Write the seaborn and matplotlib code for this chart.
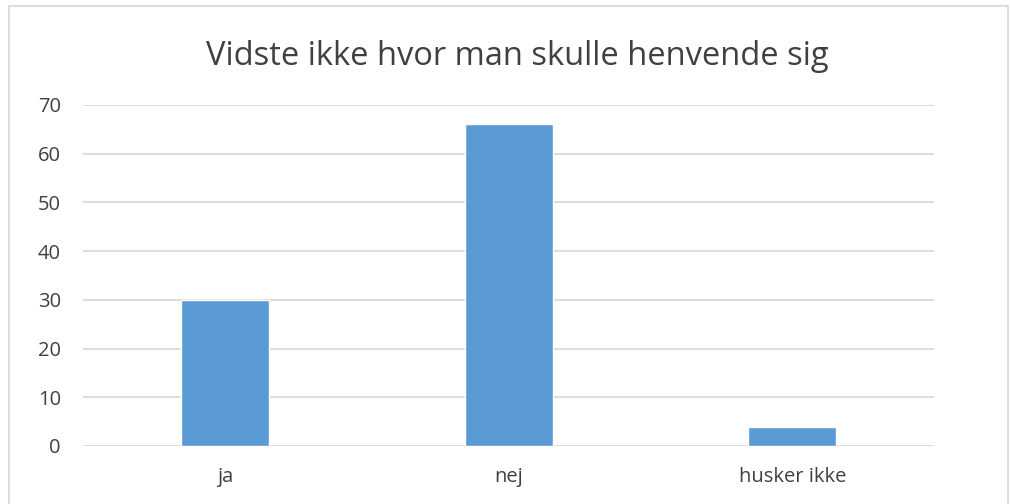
import pandas as pd
import seaborn as sns
import matplotlib.pyplot as plt
from matplotlib.patches import Rectangle

# Data
kategorier = ["ja", "nej", "husker ikke"]
antal = [30, 66, 4]

df = pd.DataFrame({"svar": kategorier, "antal": antal})

sns.set_style("white")
plt.rcParams["font.family"] = ["Open Sans", "DejaVu Sans"]

fig = plt.figure(figsize=(10.1, 5.04), dpi=100)
ax = fig.add_axes([0.0822, 0.1151, 0.8426, 0.6766])

sns.barplot(data=df, x="svar", y="antal", color="#5B9BD5", width=0.31,
            saturation=1, ax=ax, zorder=3)

ax.set_ylim(0, 70)
ax.set_xlim(-0.5, 2.5)
ax.set_yticks(range(0, 71, 10))
ax.yaxis.grid(True, color="#D9D9D9", linewidth=1.3, zorder=0)
ax.set_axisbelow(True)
for s in ax.spines.values():
    s.set_visible(False)
ax.tick_params(axis="both", length=0, labelsize=14.5, labelcolor="#404040")
ax.tick_params(axis="y", pad=16)
ax.tick_params(axis="x", pad=15)
ax.set_xlabel("")
ax.set_ylabel("")

fig.text(0.512, 0.888, "Vidste ikke hvor man skulle henvende sig",
         ha="center", va="center", fontsize=23.5, color="#404040")

# ramme om diagrammet
fig.patches.append(Rectangle((9 / 1010, -0.05), 999 / 1010, 1.05 - 6 / 504,
                             transform=fig.transFigure, fill=False,
                             edgecolor="#D9D9D9", linewidth=1.3))

fig.savefig("out.png", dpi=100)
